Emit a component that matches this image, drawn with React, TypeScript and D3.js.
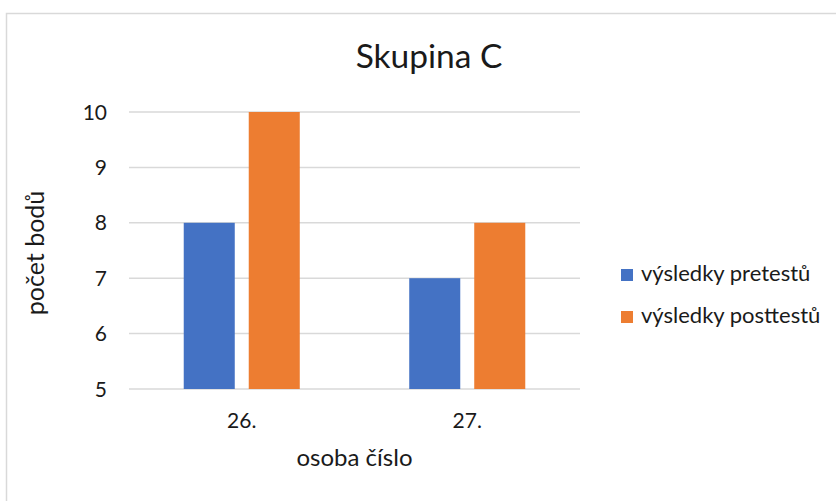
import React from "react";
import * as d3 from "d3";

const title = "Skupina C";
const categories = ["26.", "27."];
const seriesNames = ["výsledky pretestů", "výsledky posttestů"];
const pretest = [8, 7];
const posttest = [10, 8];
const seriesColors = ["#4472C4", "#ED7D31"];
const yTicks = [5, 6, 7, 8, 9, 10];
const xTitle = "osoba číslo";
const yTitle = "počet bodů";

const W = 836;
const H = 501;
const plot = { left: 129, right: 580, top: 112, bottom: 389 };
const FONT = "Lato, 'Open Sans', sans-serif";
const TEXT = "#1a1a1a";

export default function App() {
  const x = d3.scaleBand<string>().domain(categories).range([plot.left, plot.right]).paddingInner(0).paddingOuter(0);
  const inner = d3.scaleBand<string>().domain(seriesNames).range([0, x.bandwidth()]).paddingInner(0.215).paddingOuter(0.842);
  const y = d3.scaleLinear().domain([5, 10]).range([plot.bottom, plot.top]);
  const values = [pretest, posttest];

  return (
    <svg width={W} height={H} style={{ position: "absolute", left: 0, top: 0, background: "#fff" }} fontFamily={FONT}>
      <rect x={6.5} y={13.5} width={W} height={H} fill="#fff" stroke="#d9d9d9" strokeWidth={1.5} />
      <text x={429} y={68} textAnchor="middle" fontSize={33.5} fill={TEXT}>{title}</text>
      {yTicks.map((t) => (
        <g key={t}>
          <line x1={plot.left} x2={plot.right} y1={y(t)} y2={y(t)} stroke="#d9d9d9" strokeWidth={1.5} />
          <text x={107} y={y(t)} dy="0.36em" textAnchor="end" fontSize={21} fill={TEXT}>{t}</text>
        </g>
      ))}
      {categories.map((c, i) => (
        <g key={c}>
          {seriesNames.map((s, j) => (
            <rect key={s} x={(x(c) ?? 0) + (inner(s) ?? 0)} y={y(values[j][i])} width={inner.bandwidth()} height={y(5) - y(values[j][i])} fill={seriesColors[j]} />
          ))}
          <text x={(x(c) ?? 0) + x.bandwidth() / 2} y={428} textAnchor="middle" fontSize={21} fill={TEXT}>{c}</text>
        </g>
      ))}
      <text x={(plot.left + plot.right) / 2} y={466} textAnchor="middle" fontSize={24} fill={TEXT}>{xTitle}</text>
      <text transform={`translate(44, 253) rotate(-90)`} textAnchor="middle" fontSize={25} fill={TEXT}>{yTitle}</text>
      {seriesNames.map((s, j) => (
        <g key={s}>
          <rect x={621} y={269 + j * 42} width={12} height={12} fill={seriesColors[j]} />
          <text x={641} y={281 + j * 42} fontSize={22} fill={TEXT}>{s}</text>
        </g>
      ))}
    </svg>
  );
}
